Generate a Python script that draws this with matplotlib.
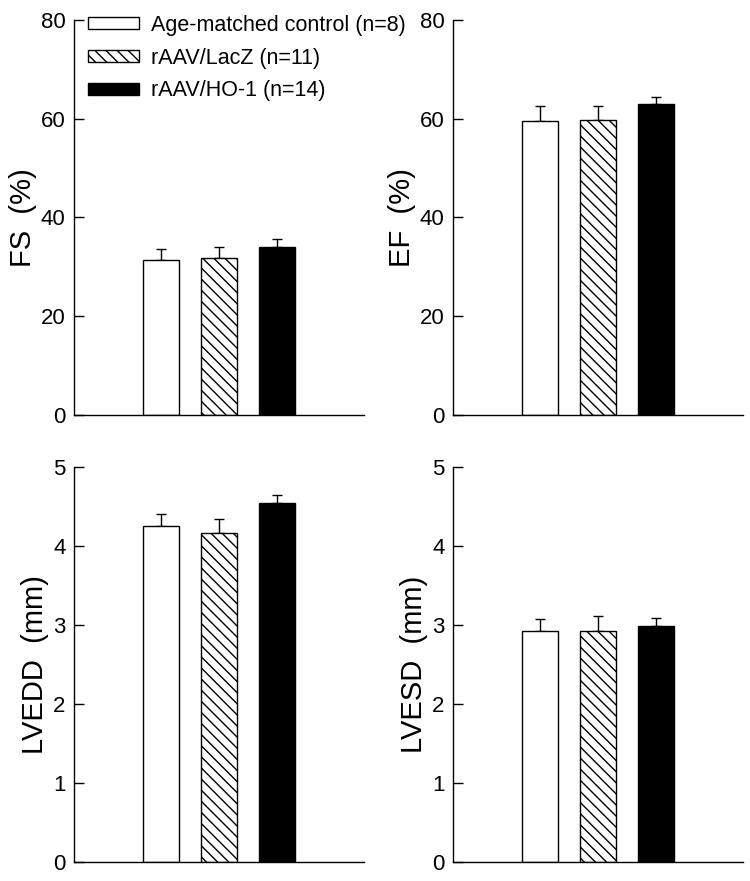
import matplotlib
matplotlib.use('Agg')
import matplotlib.pyplot as plt
import numpy as np

plt.rcParams['font.family'] = ['Liberation Sans', 'DejaVu Sans']
plt.rcParams['hatch.linewidth'] = 1.0

groups = ['Age-matched control (n=8)', 'rAAV/LacZ (n=11)', 'rAAV/HO-1 (n=14)']
fs_mean = [31.4, 31.7, 34.1]
fs_sem = [2.3, 2.4, 1.6]
ef_mean = [59.6, 59.7, 62.9]
ef_sem = [2.9, 2.9, 1.6]
lvedd_mean = [4.25, 4.17, 4.55]
lvedd_sem = [0.15, 0.17, 0.09]
lvesd_mean = [2.92, 2.92, 2.99]
lvesd_sem = [0.16, 0.19, 0.10]

x = np.array([1.5, 2.5, 3.5])
colors = ['white', 'white', 'black']
hatches = [None, '\\' * 3, None]

fig = plt.figure(figsize=(7.5, 8.81), dpi=100)

W, H = 750.0, 881.0
def make_ax(left, right, top, bottom):
    return fig.add_axes([left / W, (H - bottom) / H, (right - left) / W, (bottom - top) / H])

panels = [
    (make_ax(74, 364, 20, 415), fs_mean, fs_sem, 'FS  (%)', 80, [0, 20, 40, 60, 80]),
    (make_ax(453, 743, 20, 415), ef_mean, ef_sem, 'EF  (%)', 80, [0, 20, 40, 60, 80]),
    (make_ax(74, 364, 467, 862), lvedd_mean, lvedd_sem, 'LVEDD  (mm)', 5, [0, 1, 2, 3, 4, 5]),
    (make_ax(453, 743, 467, 862), lvesd_mean, lvesd_sem, 'LVESD  (mm)', 5, [0, 1, 2, 3, 4, 5]),
]

for ax, mean, sem, label, ymax, ticks in panels:
    for i in range(3):
        ax.bar(x[i], mean[i], width=0.62, color=colors[i], edgecolor='black',
               linewidth=1.0, hatch=hatches[i], label=groups[i], zorder=2)
    ax.errorbar(x, mean, yerr=[np.zeros(3), sem], fmt='none', ecolor='black',
                elinewidth=1.0, capsize=3.4, capthick=1.0, zorder=1)
    ax.set_xlim(0, 5)
    ax.set_ylim(0, ymax)
    ax.set_yticks(ticks)
    ax.set_xticks([])
    ax.spines['top'].set_visible(False)
    ax.spines['right'].set_visible(False)
    ax.spines['left'].set_linewidth(1.0)
    ax.spines['bottom'].set_linewidth(1.0)
    ax.tick_params(axis='y', direction='in', length=7, width=1.0, labelsize=16, pad=6)
    ax.set_ylabel(label, fontsize=21, labelpad=3)

panels[0][0].legend(loc='upper left', bbox_to_anchor=(0.018, 1.035), frameon=False,
                    fontsize=15.5, handlelength=2.4, handleheight=0.5,
                    labelspacing=0.55, handletextpad=0.55, borderaxespad=0)

fig.savefig('out.png', dpi=100)
